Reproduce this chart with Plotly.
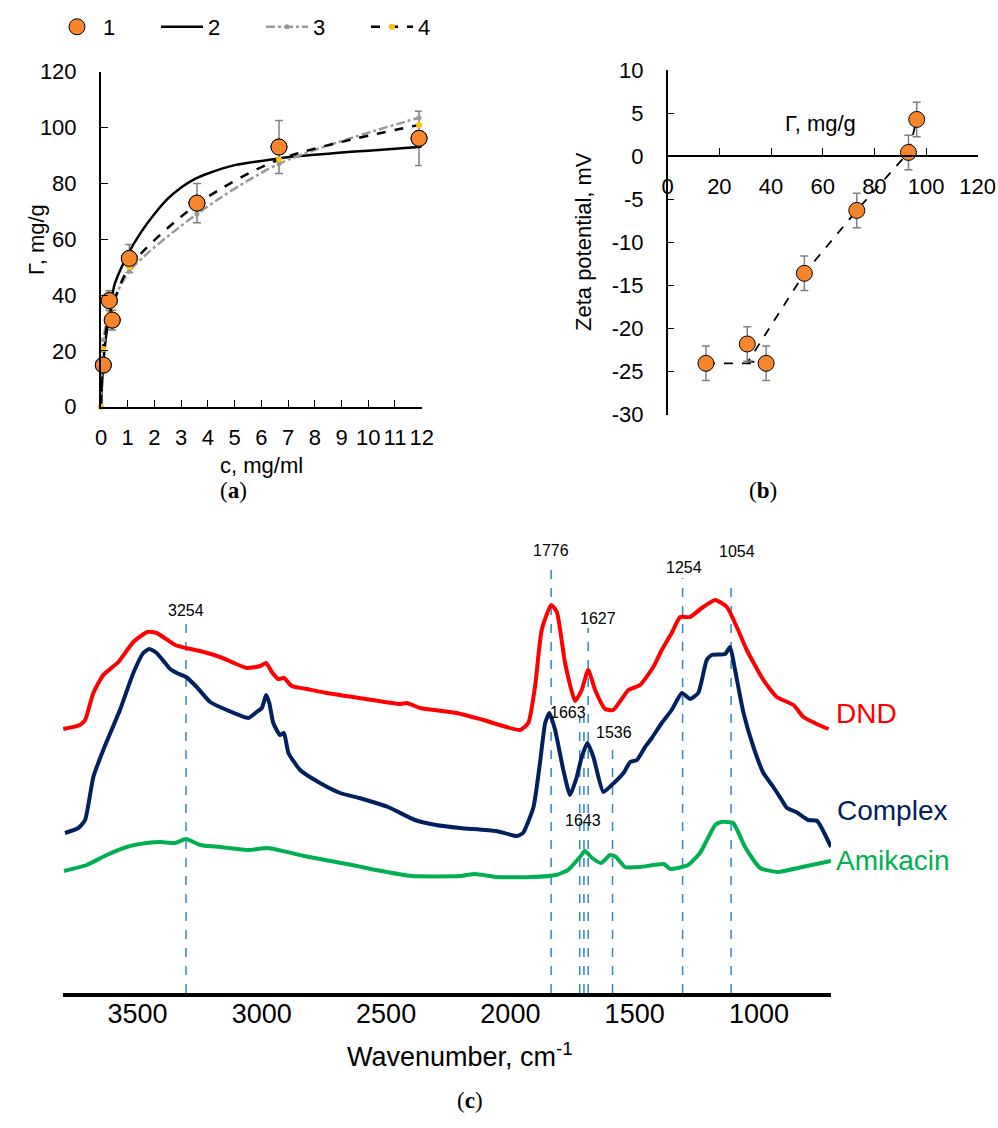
import plotly.graph_objects as go

W, H = 998, 1128
def px(x): return x / W
def py(y): return 1 - y / H

FONT = "Liberation Sans, Arial, sans-serif"
SERIF = "Liberation Serif, Times New Roman, serif"
ORANGE = "#F7852B"

# ---------------- Panel (a): adsorption isotherm ----------------
c_data = [0.087, 0.31, 0.42, 1.06, 3.59, 6.66, 11.9]
gamma_data = [14.9, 38.0, 31.0, 53.1, 72.9, 93.0, 96.1]
gamma_err = [1.5, 3.5, 3.5, 5.0, 7.0, 9.5, 9.7]

c_fit2 = [0, 0.05, 0.1, 0.2, 0.3, 0.5, 0.75, 1.0, 1.5, 2, 2.5, 3, 3.5, 4, 5, 6, 7, 8, 9, 10, 11, 12]
gamma_fit2 = [0, 10, 17, 26, 32, 43.5, 49.5, 54.5, 62.5, 69, 74.5, 78.5, 81.5, 83.5, 86.5, 88, 89.3, 90.2, 91, 91.7, 92.4, 93.1]

c_fit = [0, 0.087, 0.31, 0.42, 1.06, 3.59, 6.66, 11.9]
gamma_fit3 = [0, 24, 34, 37, 48.5, 69, 87, 103.5]
gamma_fit4 = [0, 20.7, 33, 36, 50, 72.5, 88.5, 100.9]

a_xticks = [0, 1, 2, 3, 4, 5, 6, 7, 8, 9, 10, 11, 12]
a_yticks = [0, 20, 40, 60, 80, 100, 120]

# ---------------- Panel (b): zeta potential ----------------
gamma_b = [14.8, 30.8, 38.1, 52.9, 73.2, 93.2, 96.4]
zeta_b = [-24.05, -21.8, -24.05, -13.6, -6.3, 0.43, 4.26]
zeta_err = [2.0, 2.0, 2.0, 2.0, 2.0, 2.0, 2.0]
zeta_line_x = [14.8, 38.1, 31.2, 52.9, 73.2, 93.2, 96.4]
zeta_line_y = [-24.05, -24.05, -23.8, -13.6, -6.3, 0.43, 4.26]

b_xticks = [0, 20, 40, 60, 80, 100, 120]
b_yticks = [-30, -25, -20, -15, -10, -5, 0, 5, 10]
b_yticktext = ["-30", "-25", "-20", "-15", "-10", "-5", "0", "5", "10"]

# ---------------- Panel (c): IR spectra ----------------
dnd_wn = [3799, 3732, 3711, 3678, 3638, 3577, 3517, 3461, 3423, 3349, 3305, 3249, 3168, 3061, 3007,
          2983, 2960, 2934, 2911, 2880, 2819, 2739, 2608, 2444, 2417, 2363, 2216, 2109, 1961, 1928,
          1901, 1874, 1836, 1813, 1780, 1740, 1713, 1687, 1659, 1619, 1586, 1525, 1478, 1425, 1391,
          1351, 1317, 1277, 1230, 1176, 1129, 1089, 1049, 982, 928, 861, 821, 767, 720]
dnd_abs = [2.64, 2.68, 2.73, 3.00, 3.18, 3.31, 3.51, 3.61, 3.60, 3.48, 3.45, 3.42, 3.36, 3.25, 3.27,
           3.30, 3.21, 3.14, 3.15, 3.07, 3.04, 3.00, 2.95, 2.89, 2.90, 2.85, 2.80, 2.73, 2.63, 2.70,
           3.06, 3.63, 3.88, 3.81, 3.30, 2.92, 3.03, 3.23, 3.03, 2.84, 2.83, 3.03, 3.08, 3.26, 3.43,
           3.60, 3.76, 3.76, 3.85, 3.93, 3.86, 3.66, 3.43, 3.13, 2.96, 2.88, 2.76, 2.69, 2.64]

cx_wn = [3792, 3738, 3711, 3678, 3638, 3571, 3517, 3477, 3453, 3423, 3369, 3342, 3305, 3262, 3208,
         3141, 3054, 3021, 3000, 2983, 2970, 2954, 2927, 2911, 2893, 2846, 2766, 2685, 2608, 2492,
         2384, 2299, 2202, 2058, 1973, 1949, 1907, 1881, 1860, 1843, 1820, 1787, 1760, 1733, 1713,
         1690, 1666, 1626, 1592, 1545, 1518, 1491, 1458, 1431, 1391, 1351, 1310, 1277, 1244, 1210,
         1190, 1136, 1116, 1096, 1062, 1022, 982, 942, 908, 887, 850, 802, 766, 710]
cx_abs = [1.60, 1.65, 1.73, 2.16, 2.43, 2.83, 3.20, 3.40, 3.44, 3.40, 3.24, 3.20, 3.16, 3.06, 2.91,
          2.83, 2.75, 2.81, 2.85, 2.98, 2.90, 2.70, 2.58, 2.60, 2.40, 2.23, 2.10, 2.00, 1.95, 1.86,
          1.73, 1.68, 1.65, 1.62, 1.57, 1.60, 1.86, 2.30, 2.70, 2.80, 2.63, 2.23, 1.98, 2.16, 2.36,
          2.50, 2.36, 2.01, 2.08, 2.20, 2.31, 2.33, 2.46, 2.55, 2.70, 2.83, 3.00, 2.94, 3.00, 3.33,
          3.38, 3.39, 3.46, 3.23, 2.80, 2.46, 2.20, 2.06, 1.93, 1.85, 1.81, 1.73, 1.72, 1.46]

am_wn = [3796, 3705, 3624, 3544, 3463, 3410, 3349, 3305, 3249, 3168, 3048, 2975, 2830, 2637, 2540,
         2396, 2202, 2142, 2058, 1913, 1816, 1768, 1720, 1700, 1671, 1635, 1599, 1575, 1539, 1478,
         1382, 1357, 1285, 1237, 1176, 1152, 1104, 1056, 995, 923, 826, 710]
am_abs = [1.22, 1.28, 1.38, 1.46, 1.50, 1.51, 1.50, 1.54, 1.48, 1.46, 1.43, 1.45, 1.37, 1.28, 1.23,
          1.17, 1.17, 1.19, 1.16, 1.16, 1.18, 1.23, 1.36, 1.42, 1.35, 1.30, 1.38, 1.36, 1.26, 1.26,
          1.29, 1.24, 1.28, 1.40, 1.68, 1.71, 1.70, 1.46, 1.25, 1.21, 1.26, 1.32]

peak_labels = ["3254", "1776", "1663", "1643", "1627", "1536", "1254", "1054"]
peak_wn = [3305, 1836, 1721, 1704, 1687, 1589, 1307, 1112]
peak_top = [3.75, 4.28, 2.76, 2.76, 3.65, 2.48, 4.15, 4.11]

c_xticks = [3500, 3000, 2500, 2000, 1500, 1000]

fig = go.Figure()

# ---- (a) traces ----
fig.add_trace(go.Scatter(x=c_data, y=gamma_data, mode="markers", name="1",
                         marker=dict(size=16, color=ORANGE, line=dict(color="black", width=1)),
                         error_y=dict(type="data", array=gamma_err, color="#7F7F7F", thickness=1.5, width=4),
                         xaxis="x", yaxis="y", cliponaxis=False))
fig.add_trace(go.Scatter(x=c_fit2, y=gamma_fit2, mode="lines", name="2",
                         line=dict(color="black", width=2.5, shape="spline", smoothing=0.8),
                         xaxis="x", yaxis="y", cliponaxis=False))
fig.add_trace(go.Scatter(x=c_fit, y=gamma_fit3, mode="lines+markers", name="3",
                         line=dict(color="#999999", width=2.5, dash="dashdot", shape="spline", smoothing=0.8),
                         marker=dict(size=5, color="#999999"),
                         xaxis="x", yaxis="y", cliponaxis=False))
fig.add_trace(go.Scatter(x=c_fit, y=gamma_fit4, mode="lines+markers", name="4",
                         line=dict(color="black", width=2.5, dash="dash", shape="spline", smoothing=0.8),
                         marker=dict(size=6, color="#FFC000"),
                         xaxis="x", yaxis="y", cliponaxis=False))
# bring data points to the top
fig.add_trace(go.Scatter(x=c_data, y=gamma_data, mode="markers", showlegend=False,
                         marker=dict(size=16, color=ORANGE, line=dict(color="black", width=1)),
                         xaxis="x", yaxis="y", cliponaxis=False, hoverinfo="skip"))

# ---- (b) traces ----
fig.add_trace(go.Scatter(x=zeta_line_x, y=zeta_line_y, mode="lines", showlegend=False,
                         line=dict(color="black", width=1.8, dash="dash"),
                         xaxis="x2", yaxis="y2"))
fig.add_trace(go.Scatter(x=gamma_b, y=zeta_b, mode="markers", showlegend=False,
                         marker=dict(size=16, color=ORANGE, line=dict(color="black", width=1)),
                         error_y=dict(type="data", array=zeta_err, color="#7F7F7F", thickness=1.5, width=4),
                         xaxis="x2", yaxis="y2", cliponaxis=False))

# ---- (c) traces ----
for w, t in zip(peak_wn, peak_top):
    fig.add_trace(go.Scatter(x=[w, w], y=[0, t], mode="lines", showlegend=False,
                             line=dict(color="#2E88C9", width=1.5, dash="dash"),
                             xaxis="x3", yaxis="y3", hoverinfo="skip"))
fig.add_trace(go.Scatter(x=dnd_wn, y=dnd_abs, mode="lines", showlegend=False, name="DND",
                         line=dict(color="#FF0000", width=4, shape="spline", smoothing=0.5),
                         xaxis="x3", yaxis="y3"))
fig.add_trace(go.Scatter(x=cx_wn, y=cx_abs, mode="lines", showlegend=False, name="Complex",
                         line=dict(color="#002060", width=4, shape="spline", smoothing=0.5),
                         xaxis="x3", yaxis="y3"))
fig.add_trace(go.Scatter(x=am_wn, y=am_abs, mode="lines", showlegend=False, name="Amikacin",
                         line=dict(color="#00B050", width=4, shape="spline", smoothing=0.5),
                         xaxis="x3", yaxis="y3"))

# ---- layout ----
a_x0, a_x1, a_yb, a_yt = 101, 421.7, 406.7, 71.6
b_x0, b_x1, b_yb, b_yt, b_y0 = 667.7, 977.7, 414.6, 70.0, 156.0
c_x0, c_x1, c_yb, c_yt = 63, 831, 993, 540

axcommon = dict(showgrid=False, zeroline=False, showline=True, linecolor="black", automargin=False,
                ticks="inside", tickcolor="black", tickfont=dict(family=FONT, size=22, color="black"))

fig.update_layout(
    template="none",
    width=W, height=H, margin=dict(l=0, r=0, t=0, b=0, pad=0, autoexpand=False),
    plot_bgcolor="white", paper_bgcolor="white",
    font=dict(family=FONT, color="black"),
    showlegend=True,
    legend=dict(orientation="h", x=px(51), y=py(27), xanchor="left", yanchor="middle",
                font=dict(family=FONT, size=22, color="black"), bgcolor="rgba(0,0,0,0)",
                itemwidth=42, entrywidth=48, entrywidthmode="pixels", tracegroupgap=0),
    xaxis=dict(domain=[px(a_x0), px(a_x1)], range=[0, 12], tickvals=a_xticks, tickangle=0,
               linewidth=2, ticklen=7, ticklabelstandoff=10, anchor="y", **axcommon),
    yaxis=dict(domain=[py(a_yb), py(a_yt)], range=[0, 120], tickvals=a_yticks,
               linewidth=2, ticklen=7, ticklabelstandoff=18, anchor="x", **axcommon),
    xaxis2=dict(domain=[px(b_x0), px(b_x1)], range=[0, 120], tickvals=b_xticks, tickangle=0,
                linewidth=1.5, ticklen=7, ticklabelstandoff=11, anchor="free", position=py(b_y0),
                **axcommon),
    yaxis2=dict(domain=[py(b_yb), py(b_yt)], range=[-30, 10], tickvals=b_yticks, ticktext=b_yticktext,
                linewidth=1.5, ticklen=7, ticklabelstandoff=18, anchor="x2", **axcommon),
    xaxis3=dict(domain=[px(c_x0), px(c_x1)], range=[3800, 710], tickvals=c_xticks, tickangle=0,
                showgrid=False, zeroline=False, showline=True, linecolor="black", linewidth=3.5,
                automargin=False, ticks="", ticklabelstandoff=-6,
                tickfont=dict(family=FONT, size=27, color="black"), anchor="y3"),
    yaxis3=dict(domain=[py(c_yb), py(c_yt)], range=[0, 4.53], visible=False, anchor="x3",
                automargin=False),
)

ann = []
def text(x, y, s, size=22, color="black", angle=0, family=FONT):
    ann.append(dict(x=px(x), y=py(y), xref="paper", yref="paper", text=s, showarrow=False,
                    xanchor="center", yanchor="middle", textangle=angle,
                    font=dict(family=family, size=size, color=color)))

# axis titles
text(37, 240, "Γ, mg/g", angle=-90)
text(261, 465, "c, mg/ml")
text(583, 242, "Zeta potential, mV", angle=-90)
text(820, 123, "Γ, mg/g")
text(460, 1055, "Wavenumber, cm<sup>-1</sup>", size=27)

# captions
text(233, 490, "(<b>a</b>)", size=23, family=SERIF)
text(763, 490, "(<b>b</b>)", size=23, family=SERIF)
text(470, 1100, "(<b>c</b>)", size=23, family=SERIF)

# peak labels
peak_label_px = {"3254": (186, 610), "1776": (551, 551), "1254": (684, 567), "1054": (737, 552),
                 "1627": (598, 618), "1663": (568, 712), "1536": (614, 732), "1643": (583, 820)}
for lab in peak_labels:
    x, y = peak_label_px[lab]
    text(x, y, lab, size=16)

# curve names
text(866, 713, "DND", size=28, color="#FF0000")
text(892, 810, "Complex", size=28, color="#002060")
text(893, 860, "Amikacin", size=28, color="#00B050")

fig.update_layout(annotations=ann)
fig.write_html("out.html")
